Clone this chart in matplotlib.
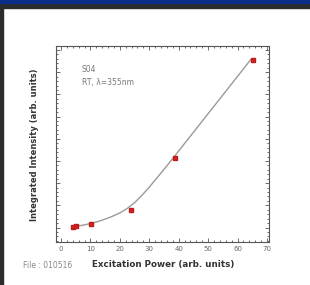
import matplotlib
matplotlib.use('Agg')
import matplotlib.pyplot as plt
from matplotlib.patches import Rectangle
from matplotlib.ticker import MultipleLocator, NullFormatter

# measured points (excitation power, integrated intensity in arb. units)
power = [4.2, 5.1, 10.1, 23.8, 38.8, 65.1]
intensity = [0.01, 0.09, 0.15, 0.79, 3.14, 7.54]

# fitted guide curve
curve_x = [5, 7.5, 10, 12.5, 15, 17.5, 20, 22.5, 25, 27.5, 30, 32.5, 35, 37.5, 40, 45, 50, 55, 60, 64.5]
curve_y = [0.05, 0.11, 0.18, 0.27, 0.38, 0.51, 0.66, 0.86, 1.12, 1.45, 1.82, 2.22, 2.62, 3.03, 3.45,
           4.29, 5.13, 5.97, 6.81, 7.57]

x_ticks = [0, 10, 20, 30, 40, 50, 60, 70]

fig = plt.figure(figsize=(3.10, 2.85), dpi=100)
fig.patch.set_facecolor('white')

# screenshot frame
W, H = 310, 285
fig.add_artist(Rectangle((0, 1 - 8.3 / H), 1, 8.3 / H, transform=fig.transFigure, color='#2b2b2b', zorder=0))
fig.add_artist(Rectangle((0, 1 - 3.3 / H), 1, 3.3 / H, transform=fig.transFigure, color='#0b2d8a', zorder=1))
fig.add_artist(Rectangle((0, 0), 3.3 / W, 1 - 3.3 / H, transform=fig.transFigure, color='#2b2b2b', zorder=0))

ax = fig.add_axes([56 / W, 43 / H, 212.7 / W, 196 / H])
ax.plot(curve_x, curve_y, color='#9a9a9a', lw=1.0, zorder=2)
ax.plot(power, intensity, 's', color='#d42424', ms=3.2, mec='#c01a1a', zorder=3)

ax.set_xlim(-1.7, 70.6)
ax.set_ylim(-0.65, 8.18)
ax.set_xticks(x_ticks)
ax.xaxis.set_minor_locator(MultipleLocator(2))
ax.yaxis.set_major_locator(MultipleLocator(1))
ax.yaxis.set_minor_locator(MultipleLocator(0.2))
ax.yaxis.set_major_formatter(NullFormatter())
ax.tick_params(which='both', direction='in', top=True, right=True, color='#555555', width=0.6)
ax.tick_params(which='major', length=3, labelsize=5, labelcolor='#666666', pad=3)
ax.tick_params(which='minor', length=1.6)
for s in ax.spines.values():
    s.set_color('#555555')
    s.set_linewidth(0.8)

ax.text(0.12, 0.878, 'S04', transform=ax.transAxes, fontsize=5.5, color='#777777', va='center')
ax.text(0.12, 0.812, 'RT, λ=355nm', transform=ax.transAxes, fontsize=5.5, color='#777777', va='center')

fig.text(35 / W, 1 - 145 / H, 'Integrated Intensity (arb. units)', rotation=90, ha='center', va='center',
         fontsize=6, color='#333333', fontweight='bold')
fig.text(163 / W, 1 - 264 / H, 'Excitation Power (arb. units)', ha='center', va='center',
         fontsize=6.3, color='#333333', fontweight='bold')
fig.text(23 / W, 1 - 266 / H, 'File : 010516', ha='left', va='center', fontsize=5.5, color='#888888')

fig.savefig('out.png', dpi=100)
